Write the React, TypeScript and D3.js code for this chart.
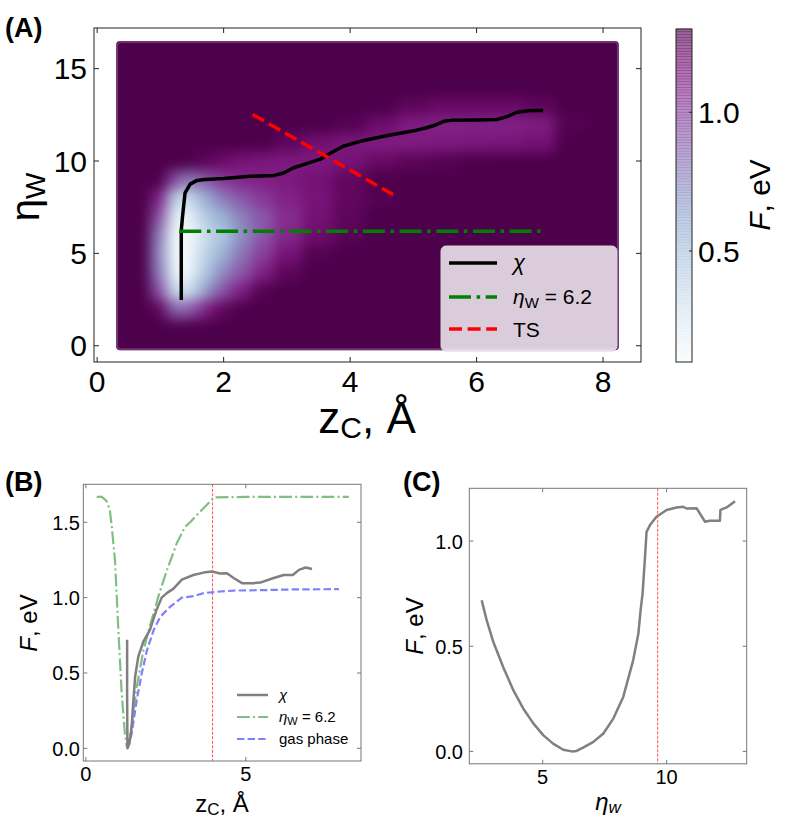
import React from 'react';
import * as d3 from 'd3';

// ---------- Panel A data ----------
const HEAT_X = [0.3, 0.7, 1.0, 1.2, 1.4, 1.6, 1.8, 2.0, 2.3, 2.6, 3.0, 3.5, 4.0, 4.5, 5.0, 5.5, 6.0, 6.5, 7.0, 7.5, 8.0];
const HEAT_Y = [0, 1, 2, 3, 4, 5, 6, 7, 8, 9, 10, 11, 12, 13, 14, 15, 16];
const HEAT_F = [
  [1.5, 1.5, 1.5, 1.5, 1.5, 1.5, 1.5, 1.5, 1.5, 1.5, 1.5, 1.5, 1.5, 1.5, 1.5, 1.5, 1.5, 1.5, 1.5, 1.5, 1.5],
  [1.5, 1.5, 1.5, 1.4, 1.38, 1.42, 1.5, 1.5, 1.5, 1.5, 1.5, 1.5, 1.5, 1.5, 1.5, 1.5, 1.5, 1.5, 1.5, 1.5, 1.5],
  [1.5, 1.5, 1.25, 0.9, 0.85, 1.0, 1.15, 1.25, 1.35, 1.45, 1.5, 1.5, 1.5, 1.5, 1.5, 1.5, 1.5, 1.5, 1.5, 1.5, 1.5],
  [1.5, 1.45, 0.95, 0.4, 0.3, 0.5, 0.75, 0.95, 1.12, 1.28, 1.4, 1.5, 1.5, 1.5, 1.5, 1.5, 1.5, 1.5, 1.5, 1.5, 1.5],
  [1.5, 1.4, 0.8, 0.25, 0.1, 0.35, 0.55, 0.75, 0.92, 1.1, 1.25, 1.36, 1.45, 1.5, 1.5, 1.5, 1.5, 1.5, 1.5, 1.5, 1.5],
  [1.5, 1.4, 0.75, 0.2, 0.05, 0.3, 0.45, 0.6, 0.82, 1.0, 1.16, 1.28, 1.36, 1.45, 1.5, 1.5, 1.5, 1.5, 1.5, 1.5, 1.5],
  [1.5, 1.4, 0.8, 0.2, 0.05, 0.25, 0.4, 0.5, 0.72, 0.92, 1.08, 1.2, 1.27, 1.32, 1.38, 1.45, 1.5, 1.5, 1.5, 1.5, 1.5],
  [1.5, 1.42, 0.95, 0.3, 0.12, 0.35, 0.5, 0.6, 0.78, 0.92, 1.06, 1.17, 1.25, 1.3, 1.35, 1.42, 1.5, 1.5, 1.5, 1.5, 1.5],
  [1.5, 1.45, 1.1, 0.5, 0.3, 0.5, 0.65, 0.8, 0.92, 1.02, 1.1, 1.16, 1.24, 1.28, 1.33, 1.38, 1.45, 1.5, 1.5, 1.5, 1.5],
  [1.5, 1.48, 1.3, 1.0, 0.8, 0.85, 0.95, 1.03, 1.08, 1.11, 1.13, 1.17, 1.24, 1.3, 1.35, 1.4, 1.45, 1.5, 1.5, 1.5, 1.5],
  [1.5, 1.5, 1.48, 1.42, 1.32, 1.27, 1.24, 1.2, 1.16, 1.14, 1.13, 1.13, 1.16, 1.22, 1.26, 1.28, 1.31, 1.34, 1.38, 1.45, 1.5],
  [1.5, 1.5, 1.5, 1.5, 1.5, 1.5, 1.48, 1.45, 1.38, 1.32, 1.25, 1.18, 1.14, 1.12, 1.12, 1.13, 1.14, 1.15, 1.17, 1.3, 1.5],
  [1.5, 1.5, 1.5, 1.5, 1.5, 1.5, 1.5, 1.5, 1.5, 1.5, 1.48, 1.38, 1.28, 1.2, 1.12, 1.1, 1.1, 1.1, 1.12, 1.28, 1.5],
  [1.5, 1.5, 1.5, 1.5, 1.5, 1.5, 1.5, 1.5, 1.5, 1.5, 1.5, 1.5, 1.48, 1.36, 1.25, 1.22, 1.22, 1.22, 1.25, 1.4, 1.5],
  [1.5, 1.5, 1.5, 1.5, 1.5, 1.5, 1.5, 1.5, 1.5, 1.5, 1.5, 1.5, 1.5, 1.5, 1.48, 1.46, 1.46, 1.46, 1.48, 1.5, 1.5],
  [1.5, 1.5, 1.5, 1.5, 1.5, 1.5, 1.5, 1.5, 1.5, 1.5, 1.5, 1.5, 1.5, 1.5, 1.5, 1.5, 1.5, 1.5, 1.5, 1.5, 1.5],
  [1.5, 1.5, 1.5, 1.5, 1.5, 1.5, 1.5, 1.5, 1.5, 1.5, 1.5, 1.5, 1.5, 1.5, 1.5, 1.5, 1.5, 1.5, 1.5, 1.5, 1.5],
];
const HEAT_EXTENT_X = [0.3, 8.25];
const HEAT_EXTENT_Y = [-0.25, 16.5];

const CHI_A_Z = [1.33, 1.33, 1.35, 1.39, 1.47, 1.58, 1.7, 2.0, 2.42, 2.8, 2.95, 3.1, 3.31, 3.53, 3.7, 3.89, 4.2, 4.53, 5.05, 5.21, 5.35, 5.48, 5.6, 6.0, 6.32, 6.48, 6.64, 6.85, 7.05];
const CHI_A_ETA = [2.48, 6.24, 7.0, 8.28, 8.75, 8.95, 9.0, 9.05, 9.17, 9.22, 9.35, 9.62, 9.86, 10.1, 10.45, 10.8, 11.1, 11.34, 11.67, 11.8, 11.95, 12.15, 12.2, 12.22, 12.25, 12.4, 12.64, 12.73, 12.73];
const ETA62_Z = [1.3, 7.01];
const ETA62_ETA = [6.2, 6.2];
const TS_A_Z = [2.46, 4.68];
const TS_A_ETA = [12.52, 8.18];

const A_XTICKS = [0, 2, 4, 6, 8];
const A_YTICKS = [0, 5, 10, 15];
const CB_TICKS = [0.5, 1.0];
const CB_RANGE = [0.1, 1.3];

// ---------- Panel B data ----------
const CHI_B_Z = [1.29, 1.29, 1.3, 1.36, 1.43, 1.48, 1.54, 1.64, 1.8, 2.0, 2.21, 2.37, 2.53, 2.74, 3.0, 3.36, 3.68, 3.94, 4.2, 4.41, 4.62, 4.88, 5.24, 5.45, 5.87, 6.19, 6.47, 6.66, 6.87, 7.07];
const CHI_B_F = [0.72, 0.35, 0.0, 0.03, 0.14, 0.3, 0.475, 0.61, 0.71, 0.785, 0.92, 1.0, 1.03, 1.06, 1.12, 1.15, 1.166, 1.173, 1.16, 1.162, 1.13, 1.096, 1.096, 1.1, 1.13, 1.15, 1.15, 1.184, 1.2, 1.19];
const ETA_B_Z = [0.34, 0.5, 0.65, 0.75, 0.81, 0.91, 1.01, 1.12, 1.22, 1.28, 1.35, 1.43, 1.59, 1.8, 2.0, 2.27, 2.53, 2.84, 3.1, 3.26, 3.57, 3.94, 4.0, 5.0, 6.0, 7.0, 8.22];
const ETA_B_F = [1.668, 1.668, 1.64, 1.58, 1.47, 1.25, 0.81, 0.365, 0.1, 0.01, 0.05, 0.144, 0.41, 0.65, 0.81, 1.01, 1.18, 1.36, 1.47, 1.5, 1.57, 1.65, 1.665, 1.668, 1.668, 1.668, 1.668];
const GAS_B_Z = [1.3, 1.43, 1.59, 1.75, 1.91, 2.12, 2.33, 2.64, 3.0, 3.37, 3.68, 4.0, 4.62, 5.6, 6.6, 7.91];
const GAS_B_F = [0.0, 0.095, 0.32, 0.5, 0.65, 0.785, 0.874, 0.94, 1.0, 1.01, 1.03, 1.037, 1.047, 1.05, 1.055, 1.056];
const TS_B_Z = 3.96;
const B_XTICKS = [0, 5];
const B_YTICKS = [0, 0.5, 1.0, 1.5];

// ---------- Panel C data ----------
const C_ETA = [2.54, 2.74, 3.01, 3.41, 3.82, 4.22, 4.63, 5.03, 5.42, 5.83, 6.17, 6.37, 6.63, 7.03, 7.44, 7.85, 8.25, 8.65, 8.86, 8.95, 9.03, 9.12, 9.19, 9.33, 9.59, 10.0, 10.4, 10.67, 10.8, 11.21, 11.55, 11.74, 12.15, 12.17, 12.42, 12.76];
const C_F = [0.719, 0.624, 0.52, 0.4, 0.29, 0.203, 0.132, 0.076, 0.037, 0.008, 0.0, 0.002, 0.018, 0.044, 0.084, 0.156, 0.259, 0.433, 0.56, 0.671, 0.75, 0.91, 1.044, 1.076, 1.116, 1.148, 1.16, 1.163, 1.155, 1.156, 1.092, 1.097, 1.097, 1.148, 1.16, 1.19];
const TS_C_ETA = 9.64;
const C_XTICKS = [5, 10];
const C_YTICKS = [0, 0.5, 1.0];

const FONT = "'Liberation Sans', Arial, Helvetica, sans-serif";

function edges(arr: number[], lo: number, hi: number) {
  const e = [lo];
  for (let i = 1; i < arr.length; i++) e.push((arr[i - 1] + arr[i]) / 2);
  e.push(hi);
  return e;
}

type Sc = d3.ScaleLinear<number, number>;

function Frame({ x, y, xt, yt, stroke, tl }: { x: Sc; y: Sc; xt: number[]; yt: number[]; stroke: string; tl: number }) {
  const [x0, x1] = x.range();
  const [y0, y1] = y.range();
  return (
    <g stroke={stroke} strokeWidth={1} fill="none">
      <rect x={x0} y={y1} width={x1 - x0} height={y0 - y1} />
      {xt.map((t) => (
        <g key={'x' + t}>
          <line x1={x(t)} x2={x(t)} y1={y0} y2={y0 - tl} />
          <line x1={x(t)} x2={x(t)} y1={y1} y2={y1 + tl} />
        </g>
      ))}
      {yt.map((t) => (
        <g key={'y' + t}>
          <line x1={x0} x2={x0 + tl} y1={y(t)} y2={y(t)} />
          <line x1={x1} x2={x1 - tl} y1={y(t)} y2={y(t)} />
        </g>
      ))}
    </g>
  );
}

export default function App() {
  // ---- Panel A scales ----
  const xA = d3.scaleLinear().domain([-0.05, 8.6]).range([94, 641]);
  const yA = d3.scaleLinear().domain([-0.88, 17.2]).range([362, 28]);
  const color = d3.scaleSequential(d3.interpolateBuPu).domain(CB_RANGE as [number, number]).clamp(true);

  const xe = edges(HEAT_X, HEAT_EXTENT_X[0] - 0.6, HEAT_EXTENT_X[1] + 0.6);
  const ye = edges(HEAT_Y, HEAT_EXTENT_Y[0] - 0.8, HEAT_EXTENT_Y[1] + 0.8);

  const cells: React.ReactNode[] = [];
  HEAT_F.forEach((row, j) => {
    row.forEach((v, i) => {
      const px0 = xA(xe[i]);
      const px1 = xA(xe[i + 1]);
      const py0 = yA(ye[j + 1]);
      const py1 = yA(ye[j]);
      cells.push(
        <rect key={`${i}-${j}`} x={px0 - 0.5} y={py0 - 0.5} width={px1 - px0 + 1} height={py1 - py0 + 1} fill={color(v)} />
      );
    });
  });

  const chiAPath = d3.line<number>().x((d, i) => xA(CHI_A_Z[i])).y((d, i) => yA(CHI_A_ETA[i]))(CHI_A_Z) || '';
  const etaAPath = d3.line<number>().x((d, i) => xA(ETA62_Z[i])).y((d, i) => yA(ETA62_ETA[i]))(ETA62_Z) || '';
  const tsAPath = d3.line<number>().x((d, i) => xA(TS_A_Z[i])).y((d, i) => yA(TS_A_ETA[i]))(TS_A_Z) || '';

  const hx0 = xA(HEAT_EXTENT_X[0]);
  const hx1 = xA(HEAT_EXTENT_X[1]);
  const hy0 = yA(HEAT_EXTENT_Y[1]);
  const hy1 = yA(HEAT_EXTENT_Y[0]);

  // colorbar
  const cbX = 676;
  const cbW = 16;
  const cbY = d3.scaleLinear().domain(CB_RANGE).range([362, 29]);
  const cbSteps = d3.range(0, 120).map((k) => CB_RANGE[0] + ((CB_RANGE[1] - CB_RANGE[0]) * k) / 120);
  const cbStep = (CB_RANGE[1] - CB_RANGE[0]) / 120;

  // ---- Panel B ----
  const xB = d3.scaleLinear().domain([-0.08, 8.6]).range([83.3, 361]);
  const yB = d3.scaleLinear().domain([-0.084, 1.752]).range([761, 484.3]);
  const chiB = d3.line<number>().x((d, i) => xB(CHI_B_Z[i])).y((d, i) => yB(CHI_B_F[i]))(CHI_B_Z) || '';
  const etaB = d3.line<number>().x((d, i) => xB(ETA_B_Z[i])).y((d, i) => yB(ETA_B_F[i]))(ETA_B_Z) || '';
  const gasB = d3.line<number>().x((d, i) => xB(GAS_B_Z[i])).y((d, i) => yB(GAS_B_F[i]))(GAS_B_Z) || '';

  // ---- Panel C ----
  const xC = d3.scaleLinear().domain([2.04, 13.23]).range([469.3, 746.7]);
  const yC = d3.scaleLinear().domain([-0.059, 1.251]).range([763.8, 488.3]);
  const cPath = d3.line<number>().x((d, i) => xC(C_ETA[i])).y((d, i) => yC(C_F[i]))(C_ETA) || '';

  const grayC = '#808080';
  const greenB = '#80bf80';
  const blueB = '#8080ff';
  const frameBC = '#777';

  return (
    <svg width={789} height={825} style={{ position: 'absolute', left: 0, top: 0, background: '#fff' }} fontFamily={FONT}>
      <defs>
        <clipPath id="heatClip">
          <rect x={hx0} y={hy0} width={hx1 - hx0} height={hy1 - hy0} rx={4} />
        </clipPath>
        <filter id="heatBlur" x="-5%" y="-5%" width="110%" height="110%" colorInterpolationFilters="sRGB">
          <feGaussianBlur stdDeviation={6.5} />
          <feComponentTransfer>
            <feFuncA type="linear" slope={4} />
          </feComponentTransfer>
        </filter>
      </defs>

      {/* ================= Panel A ================= */}
      <text x={5} y={37} fontSize={27} fontWeight="bold">(A)</text>
      <g clipPath="url(#heatClip)">
        <g filter="url(#heatBlur)">{cells}</g>
      </g>
      <rect x={hx0 + 1} y={hy0 + 1} width={hx1 - hx0 - 2} height={hy1 - hy0 - 2} rx={4} fill="none" stroke="#8a5a8a" strokeWidth={2} opacity={0.55} />

      <path d={chiAPath} fill="none" stroke="#000" strokeWidth={3.5} strokeLinejoin="round" />
      <path d={etaAPath} fill="none" stroke="#008000" strokeWidth={3.5} strokeDasharray="22 5.6 3.5 5.6" />
      <path d={tsAPath} fill="none" stroke="#ff0000" strokeWidth={3.5} strokeDasharray="13 5.6" />

      {/* legend A */}
      <rect x={441} y={246} width={176} height={105} rx={5} fill="#fff" fillOpacity={0.8} stroke="#d8d0d8" strokeWidth={1} />
      <line x1={449} x2={497} y1={263} y2={263} stroke="#000" strokeWidth={3.5} />
      <line x1={449} x2={497} y1={297} y2={297} stroke="#008000" strokeWidth={3.5} strokeDasharray="22 5.6 3.5 5.6" />
      <line x1={449} x2={497} y1={329} y2={329} stroke="#ff0000" strokeWidth={3.5} strokeDasharray="13 5.6" />
      <text x={513} y={270} fontSize={22} fontStyle="italic">χ</text>
      <text x={513} y={304} fontSize={21}>
        <tspan fontStyle="italic">η</tspan>
        <tspan fontSize={15} dy={4}>W</tspan>
        <tspan dy={-4}> = 6.2</tspan>
      </text>
      <text x={513} y={337} fontSize={21}>TS</text>

      <Frame x={xA} y={yA} xt={A_XTICKS} yt={A_YTICKS} stroke="#222" tl={5} />
      {A_XTICKS.map((t) => (
        <text key={'ax' + t} x={xA(t)} y={392} fontSize={30} textAnchor="middle">{t}</text>
      ))}
      {A_YTICKS.map((t) => (
        <text key={'ay' + t} x={87} y={yA(t) + 10.5} fontSize={30} textAnchor="end">{t}</text>
      ))}
      <text x={367} y={433} fontSize={44} textAnchor="middle">
        z<tspan fontSize={30} dy={5}>C</tspan>
        <tspan dy={-5}>, Å</tspan>
      </text>
      <text transform={`translate(39,197) rotate(-90)`} fontSize={40} textAnchor="middle">
        η<tspan fontSize={28} dy={6}>W</tspan>
      </text>

      {/* colorbar */}
      <g>
        {cbSteps.map((v, k) => (
          <rect key={'cb' + k} x={cbX} y={cbY(v + cbStep) - 0.3} width={cbW} height={cbY(v) - cbY(v + cbStep) + 0.6} fill={color(v + cbStep / 2)} fillOpacity={0.6} />
        ))}
        <rect x={cbX} y={cbY(CB_RANGE[1])} width={cbW} height={cbY(CB_RANGE[0]) - cbY(CB_RANGE[1])} fill="none" stroke="#222" strokeWidth={1} />
        {CB_TICKS.map((t) => (
          <g key={'cbt' + t}>
            <line x1={cbX + cbW} x2={cbX + cbW - 3} y1={cbY(t)} y2={cbY(t)} stroke="#222" />
            <text x={698} y={cbY(t) + 10.5} fontSize={30}>{t.toFixed(1)}</text>
          </g>
        ))}
        <text transform={`translate(770,195) rotate(-90)`} fontSize={30} textAnchor="middle">
          <tspan fontStyle="italic">F</tspan>, eV
        </text>
      </g>

      {/* ================= Panel B ================= */}
      <text x={5} y={491} fontSize={27} fontWeight="bold">(B)</text>
      <line x1={xB(TS_B_Z)} x2={xB(TS_B_Z)} y1={yB.range()[1]} y2={yB.range()[0]} stroke="#ff5050" strokeWidth={1} strokeDasharray="3 1.5" />
      <path d={etaB} fill="none" stroke={greenB} strokeWidth={2.2} strokeDasharray="12.8 3.2 2 3.2" />
      <path d={gasB} fill="none" stroke={blueB} strokeWidth={2.2} strokeDasharray="7.4 3.2" />
      <path d={chiB} fill="none" stroke={grayC} strokeWidth={2.5} strokeLinejoin="round" />
      <Frame x={xB} y={yB} xt={B_XTICKS} yt={B_YTICKS} stroke={frameBC} tl={4} />
      {B_XTICKS.map((t) => (
        <text key={'bx' + t} x={xB(t)} y={781} fontSize={20} textAnchor="middle">{t}</text>
      ))}
      {B_YTICKS.map((t) => (
        <text key={'by' + t} x={80} y={yB(t) + 7.5} fontSize={20} textAnchor="end">{t.toFixed(1)}</text>
      ))}
      <text x={222} y={812} fontSize={24} textAnchor="middle">
        z<tspan fontSize={17} dy={3}>C</tspan>
        <tspan dy={-3}>, Å</tspan>
      </text>
      <text transform={`translate(37,623) rotate(-90)`} fontSize={24} textAnchor="middle">
        <tspan fontStyle="italic">F</tspan>, eV
      </text>
      {/* legend B */}
      <line x1={237} x2={268} y1={695} y2={695} stroke={grayC} strokeWidth={2.5} />
      <line x1={237} x2={268} y1={717} y2={717} stroke={greenB} strokeWidth={2.2} strokeDasharray="12.8 3.2 2 3.2" />
      <line x1={237} x2={268} y1={739} y2={739} stroke={blueB} strokeWidth={2.2} strokeDasharray="7.4 3.2" />
      <text x={279} y={700} fontSize={15} fontStyle="italic">χ</text>
      <text x={279} y={722} fontSize={15}>
        <tspan fontStyle="italic">η</tspan>
        <tspan fontSize={11} dy={3}>W</tspan>
        <tspan dy={-3}> = 6.2</tspan>
      </text>
      <text x={279} y={744} fontSize={15}>gas phase</text>

      {/* ================= Panel C ================= */}
      <text x={403} y={491} fontSize={27} fontWeight="bold">(C)</text>
      <line x1={xC(TS_C_ETA)} x2={xC(TS_C_ETA)} y1={yC.range()[1]} y2={yC.range()[0]} stroke="#ff5050" strokeWidth={1} strokeDasharray="3 1.5" />
      <path d={cPath} fill="none" stroke={grayC} strokeWidth={2.5} strokeLinejoin="round" />
      <Frame x={xC} y={yC} xt={C_XTICKS} yt={C_YTICKS} stroke={frameBC} tl={4} />
      {C_XTICKS.map((t) => (
        <text key={'cx' + t} x={xC(t)} y={783.5} fontSize={20} textAnchor="middle">{t}</text>
      ))}
      {C_YTICKS.map((t) => (
        <text key={'cy' + t} x={463} y={yC(t) + 7.5} fontSize={20} textAnchor="end">{t.toFixed(1)}</text>
      ))}
      <text x={608} y={810} fontSize={24} textAnchor="middle">
        <tspan fontStyle="italic">η</tspan>
        <tspan fontSize={17} dy={3} fontStyle="italic">w</tspan>
      </text>
      <text transform={`translate(423,626) rotate(-90)`} fontSize={24} textAnchor="middle">
        <tspan fontStyle="italic">F</tspan>, eV
      </text>
    </svg>
  );
}
